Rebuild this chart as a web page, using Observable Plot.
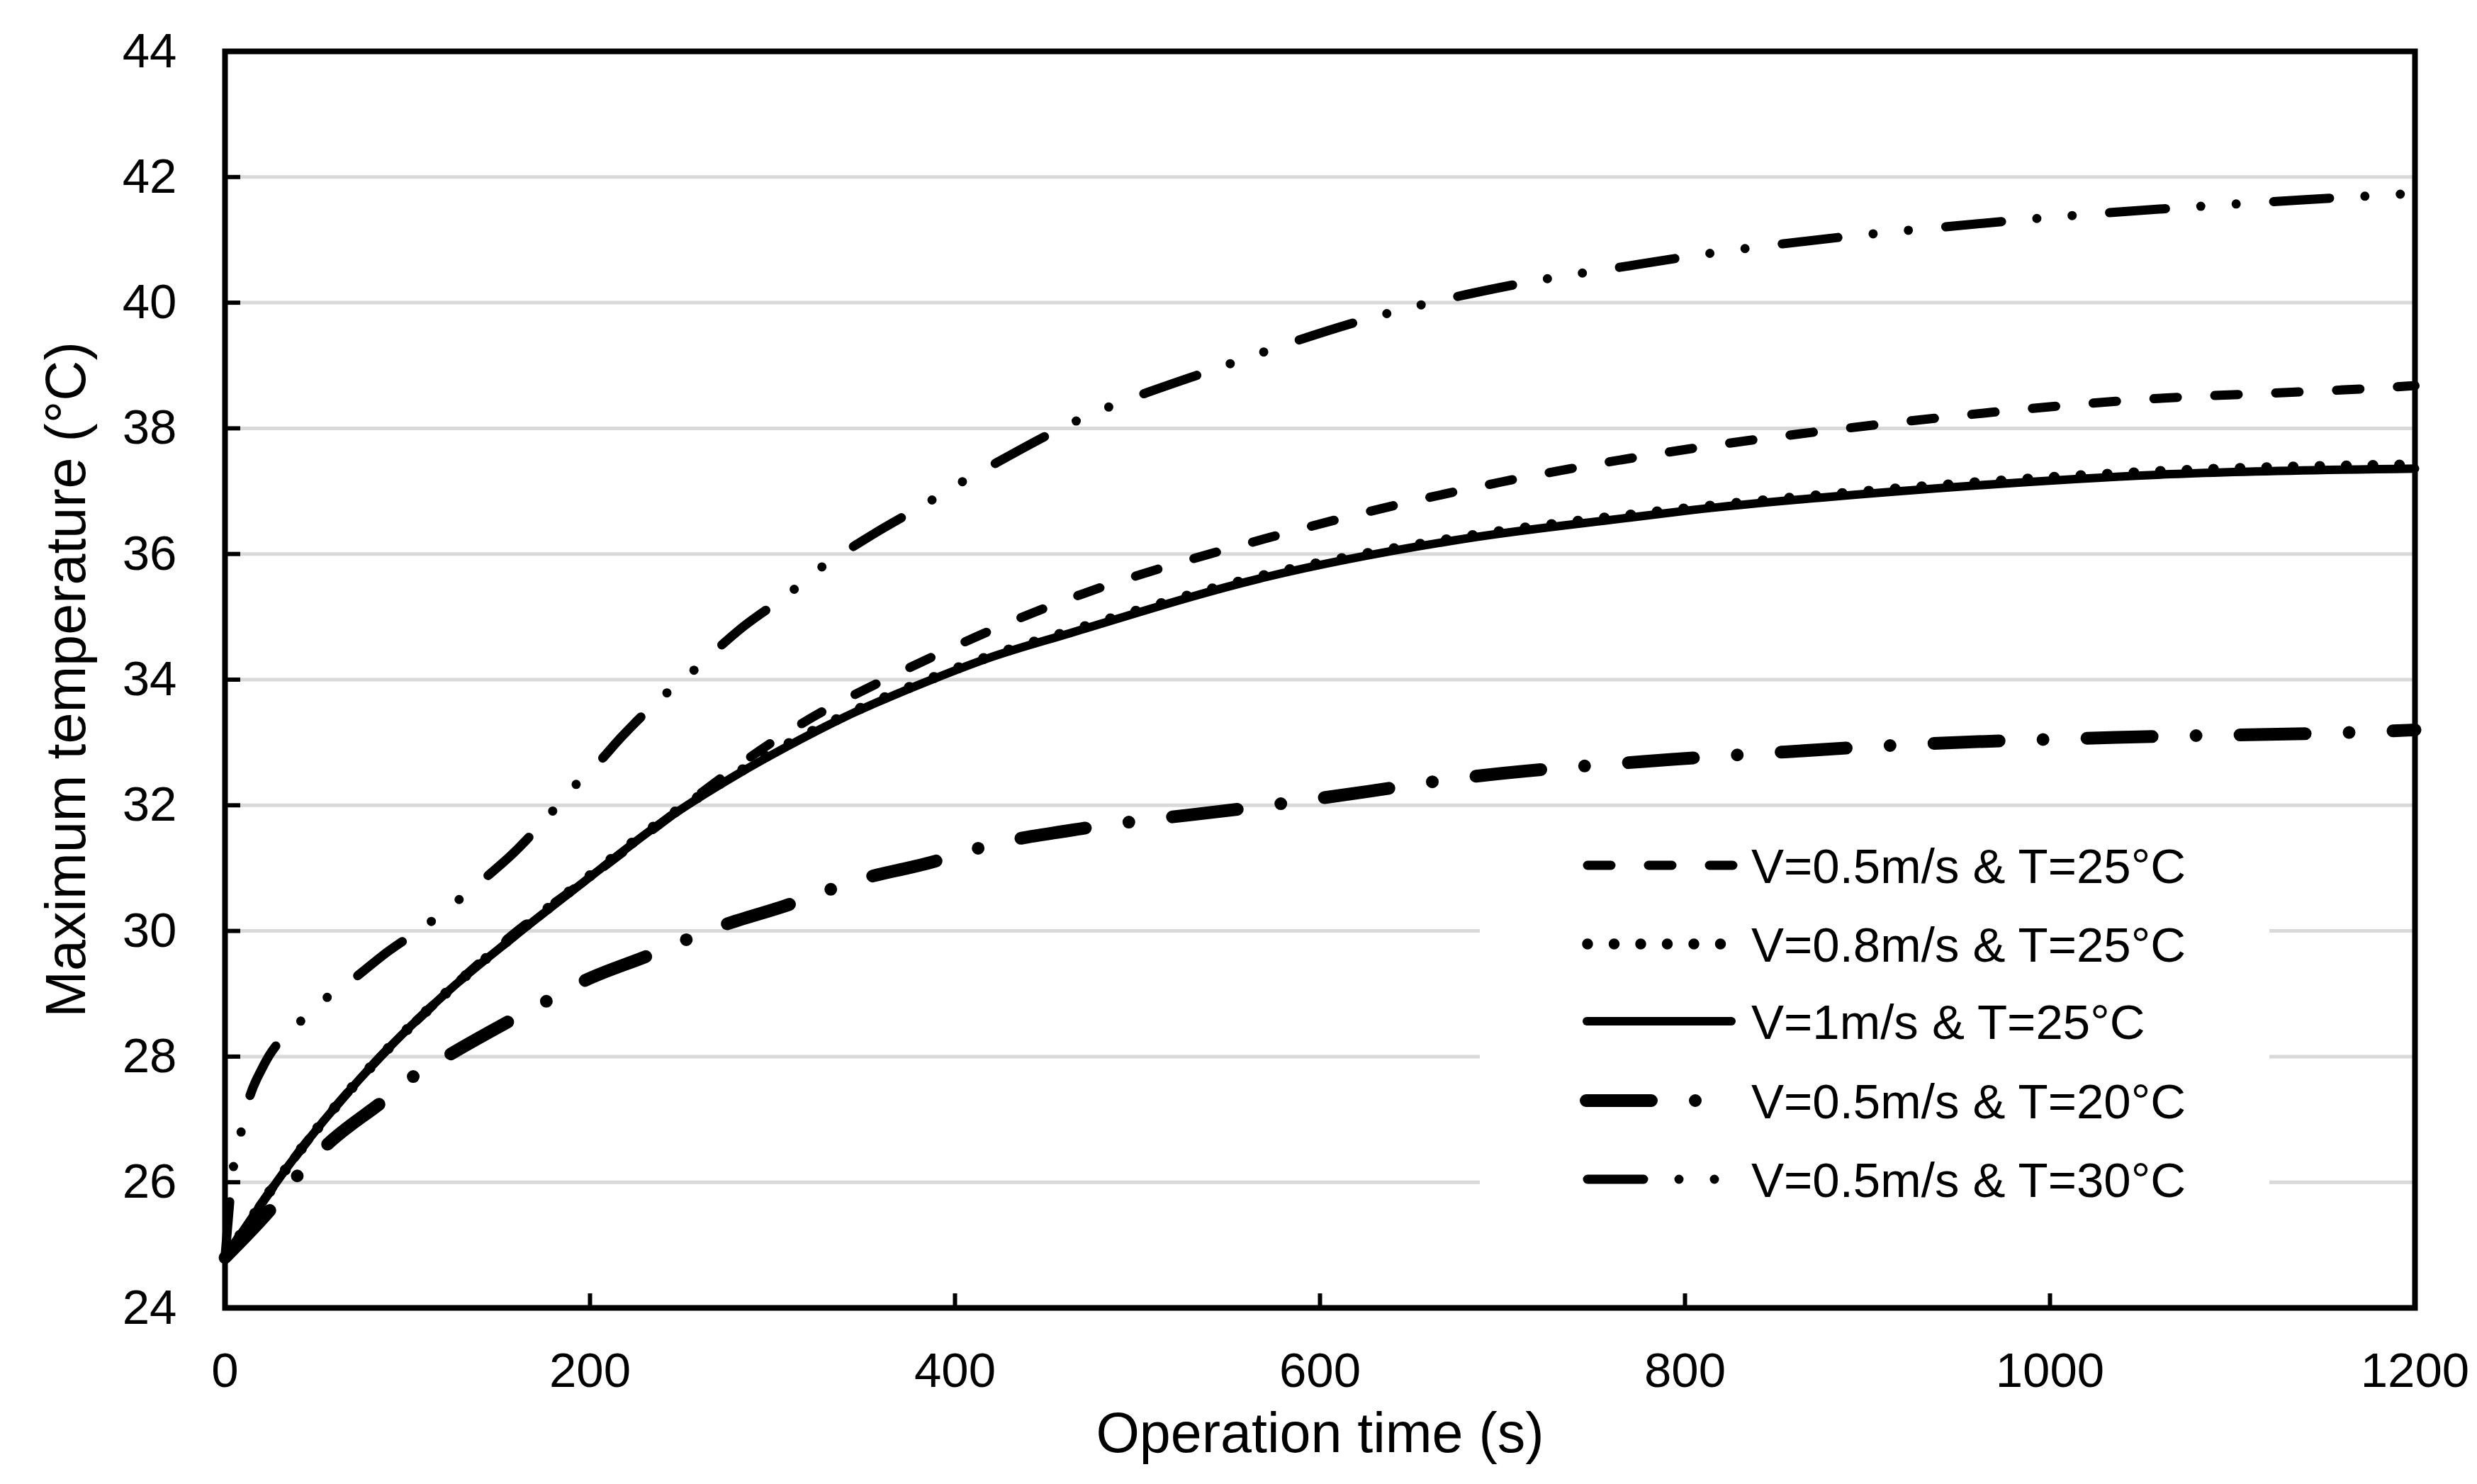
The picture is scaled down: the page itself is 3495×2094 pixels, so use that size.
<!DOCTYPE html>
<html>
<head>
<meta charset="utf-8">
<script src="https://cdn.jsdelivr.net/npm/d3@7"></script>
<script src="https://cdn.jsdelivr.net/npm/@observablehq/plot@0.6"></script>
<style>
  html, body { margin: 0; padding: 0; background: #fff; }
</style>
</head>
<body>
<div id="chart"></div>
<script>
// ---------- data ----------
const seriesLabels = [
  "V=0.5m/s & T=25°C",
  "V=0.8m/s & T=25°C",
  "V=1m/s & T=25°C",
  "V=0.5m/s & T=20°C",
  "V=0.5m/s & T=30°C"
];

// V=0.5 m/s, T=25°C (dashed)
const timeA = [0, 37, 80, 123, 158, 201, 236, 268, 297, 326, 356, 386, 413, 452, 577, 700, 782, 918, 1036, 1184, 1200];
const tempA = [24.8, 26.35, 27.84, 29.06, 29.95, 30.88, 31.65, 32.35, 32.95, 33.47, 33.92, 34.34, 34.7, 35.17, 36.3, 37.15, 37.58, 38.1, 38.43, 38.65, 38.68];

// V=0.8 m/s, T=25°C (dotted)
const timeB = [0, 37, 80, 123, 158, 201, 236, 280, 307, 345, 383, 418, 463, 570, 681, 770, 918, 1066, 1200];
const tempB = [24.8, 26.35, 27.84, 29.06, 29.92, 30.9, 31.68, 32.5, 32.95, 33.5, 33.97, 34.36, 34.77, 35.66, 36.28, 36.62, 37.04, 37.32, 37.42];

// V=1 m/s, T=25°C (solid)
const timeC = [0, 37, 80, 123, 158, 201, 236, 280, 307, 345, 383, 418, 463, 570, 681, 770, 804, 918, 1066, 1200];
const tempC = [24.8, 26.35, 27.84, 29.06, 29.9, 30.88, 31.66, 32.48, 32.92, 33.48, 33.95, 34.34, 34.74, 35.63, 36.25, 36.58, 36.7, 37.0, 37.27, 37.36];

// V=0.5 m/s, T=20°C (long dash - dot)
const timeD = [0, 28, 41, 56, 87, 104, 123, 158, 176, 195, 233, 251, 271, 307, 348, 384, 425, 463, 572, 626, 668, 793, 855, 925, 1036, 1184, 1200];
const tempD = [24.8, 25.67, 26.15, 26.6, 27.3, 27.7, 28.03, 28.6, 28.88, 29.18, 29.62, 29.84, 30.07, 30.4, 30.82, 31.07, 31.41, 31.6, 32.0, 32.22, 32.4, 32.73, 32.85, 32.97, 33.08, 33.18, 33.2];

// V=0.5 m/s, T=30°C (long dash - dot - dot)
const timeE = [0, 4.6, 8.5, 12.9, 21, 42, 55, 71, 86, 113, 127, 142, 157, 179, 191, 205, 217, 241, 255, 269, 283, 309, 324, 339, 356, 384, 401, 417, 463, 545, 627, 709, 770, 803, 977, 1140, 1200];
const tempE = [24.8, 26.24, 26.76, 27.3, 27.85, 28.58, 28.92, 29.25, 29.6, 30.15, 30.47, 30.83, 31.21, 31.89, 32.29, 32.69, 33.08, 33.76, 34.1, 34.47, 34.82, 35.37, 35.73, 36.02, 36.33, 36.8, 37.1, 37.36, 38.07, 38.97, 39.75, 40.3, 40.59, 40.74, 41.3, 41.64, 41.74];

const xTicks = [0, 200, 400, 600, 800, 1000, 1200];
const yTicks = [24, 26, 28, 30, 32, 34, 36, 38, 40, 42, 44];
const yGrid = [26, 28, 30, 32, 34, 36, 38, 40, 42];

// ---------- styles ----------
const styles = [
  {w: 13, dash: "33,53"},                // A dashed
  {w: 15.5, dash: "0,37.5"},             // B dotted
  {w: 12, dash: null},                   // C solid
  {w: 18, dash: "92,62,0,62"},           // D long dash dot
  {w: 13, dash: "79,50,0,50,0,53"}       // E long dash dot dot
];

const toRows = (ts, vs) => ts.map((t, i) => ({t, T: vs[i]}));
const dataA = toRows(timeA, tempA);
const dataB = toRows(timeB, tempB);
const dataC = toRows(timeC, tempC);
const dataD = toRows(timeD, tempD);
const dataE = toRows(timeE, tempE);

const W = 3495, H = 2094;
const mL = 317, mR = 88, mT = 72, mB = 249;
const plotW = W - mL - mR, plotH = H - mT - mB;
const FONT = "Liberation Sans, Arial, sans-serif";

const lineMark = (data, s) => Plot.line(data, {
  x: "t", y: "T", stroke: "black", strokeWidth: s.w,
  strokeDasharray: s.dash || undefined,
  strokeLinecap: "round", strokeLinejoin: "round",
  curve: "monotone-x"
});

// legend drawn as a render mark inside the plot's SVG
function legendMark() {
  const g = d3.create("svg:g");
  const boxX = 2088, boxY = 1160, boxW = 1114, boxH = 565;
  g.append("rect").attr("x", boxX).attr("y", boxY).attr("width", boxW).attr("height", boxH).attr("fill", "white");
  const rowsY = [1221, 1332, 1441, 1553, 1664];
  const x0 = [2240, 2240, 2239, 2238, 2240];
  const x1 = [2448, 2430, 2443, 2420, 2430];
  seriesLabels.forEach((lab, i) => {
    const s = styles[i];
    const ln = g.append("line")
      .attr("x1", x0[i]).attr("x2", x1[i])
      .attr("y1", rowsY[i]).attr("y2", rowsY[i])
      .attr("stroke", "black").attr("stroke-width", s.w)
      .attr("stroke-linecap", "round");
    if (s.dash) ln.attr("stroke-dasharray", s.dash);
    g.append("text")
      .attr("x", 2471).attr("y", rowsY[i]).attr("dy", "0.36em")
      .attr("text-anchor", "start")
      .attr("font-size", 69).attr("font-family", FONT).attr("fill", "black")
      .text(lab);
  });
  return g.node();
}

const chart = Plot.plot({
  width: W, height: H,
  marginLeft: mL, marginRight: mR, marginTop: mT, marginBottom: mB,
  style: {fontFamily: FONT, background: "white", color: "black", overflow: "visible"},
  x: {domain: [0, 1200]},
  y: {domain: [24, 44]},
  marks: [
    Plot.ruleY(yGrid, {y: d => d, stroke: "#d9d9d9", strokeWidth: 5}),
    legendMark,
    lineMark(dataC, styles[2]),
    lineMark(dataB, styles[1]),
    lineMark(dataA, styles[0]),
    lineMark(dataD, styles[3]),
    lineMark(dataE, styles[4]),
    Plot.ruleX(xTicks, {x: d => d, insetTop: plotH - 20, stroke: "black", strokeWidth: 6}),
    Plot.ruleY(yTicks, {y: d => d, insetRight: plotW - 22, stroke: "black", strokeWidth: 6}),
    Plot.frame({stroke: "black", strokeWidth: 8}),
    Plot.axisX({ticks: xTicks, tickSize: 0, tickPadding: 62, fontSize: 69, tickFormat: d3.format("d"), label: null}),
    Plot.axisY({ticks: yTicks, tickSize: 0, tickPadding: 68, fontSize: 69, tickFormat: d3.format("d"), label: null}),
    Plot.text(["Operation time (s)"], {text: d => d, frameAnchor: "bottom", dy: 203, fontSize: 79, fill: "black"}),
    Plot.text(["Maximum temperature (°C)"], {text: d => d, frameAnchor: "left", textAnchor: "middle", dx: -223, rotate: -90, fontSize: 79, fill: "black"})
  ]
});
document.getElementById("chart").appendChild(chart);
</script>
</body>
</html>
